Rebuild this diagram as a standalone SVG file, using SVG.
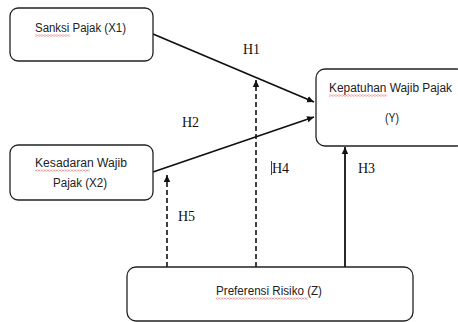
<svg xmlns="http://www.w3.org/2000/svg" width="458" height="322" viewBox="0 0 458 322">
<style>
.box{fill:#fff;stroke:#222;stroke-width:1.3}
.lbl{font-family:"Liberation Sans",Arial,sans-serif;font-size:12px;fill:#222}
.h{font-family:"Liberation Serif",serif;font-size:14px;fill:#111}
.c{stroke:#111;stroke-width:1.8;fill:none}
.d{stroke:#111;stroke-width:1.6;fill:none;stroke-dasharray:5,3}
.sq{fill:url(#wave)}
</style>
<defs>
<marker id="ah" markerWidth="8" markerHeight="8" refX="7" refY="4" orient="auto" markerUnits="userSpaceOnUse">
<path d="M0,0.8 L7,4 L0,7.2 Z" fill="#111"/>
</marker>
<pattern id="wave" width="3" height="2" patternUnits="userSpaceOnUse">
<path d="M0,0.4 L1.5,1.6 L3,0.4" stroke="#e04040" stroke-width="0.7" fill="none"/>
</pattern>
</defs>
<rect width="458" height="322" fill="#fff"/>
<g id="connectors">
<line class="c" x1="153" y1="34" x2="314" y2="102" marker-end="url(#ah)"/>
<line class="c" x1="153" y1="172" x2="314" y2="117" marker-end="url(#ah)"/>
<line class="c" x1="345" y1="267" x2="345" y2="147" marker-end="url(#ah)"/>
<line class="d" x1="256" y1="267" x2="256" y2="80" marker-end="url(#ah)"/>
<line class="d" x1="167" y1="267" x2="167" y2="175" marker-end="url(#ah)"/>
<text class="h" x="243" y="54">H1</text>
<text class="h" x="182" y="127">H2</text>
<text class="h" x="358" y="173">H3</text>
<line x1="271.5" y1="161" x2="271.5" y2="175" stroke="#111" stroke-width="0.8"/>
<text class="h" x="272" y="173">H4</text>
<text class="h" x="178" y="221">H5</text>
</g>
<g id="node-x1">
<rect class="box" x="10" y="8" width="143" height="53" rx="8"/>
<text class="lbl" x="35" y="32" textLength="91" lengthAdjust="spacingAndGlyphs">Sanksi Pajak (X1)</text>
<rect class="sq" x="35" y="34.5" width="35" height="2"/>
</g>
<g id="node-x2">
<rect class="box" x="10" y="145" width="143" height="55" rx="8"/>
<text class="lbl" x="35" y="167" textLength="92" lengthAdjust="spacingAndGlyphs">Kesadaran Wajib</text>
<text class="lbl" x="53" y="187" textLength="54" lengthAdjust="spacingAndGlyphs">Pajak (X2)</text>
<rect class="sq" x="35" y="169.5" width="55" height="2"/>
</g>
<g id="node-y">
<rect class="box" x="316" y="69" width="150" height="77" rx="9"/>
<text class="lbl" x="329" y="92" textLength="123" lengthAdjust="spacingAndGlyphs">Kepatuhan Wajib Pajak</text>
<text class="lbl" x="385" y="122" textLength="14" lengthAdjust="spacingAndGlyphs">(Y)</text>
<rect class="sq" x="329" y="94.5" width="58" height="2"/>
</g>
<g id="node-z">
<rect class="box" x="127" y="267" width="286" height="54" rx="9"/>
<text class="lbl" x="216" y="295" textLength="106" lengthAdjust="spacingAndGlyphs">Preferensi Risiko (Z)</text>
<rect class="sq" x="216" y="297.5" width="92" height="2"/>
</g>
</svg>
